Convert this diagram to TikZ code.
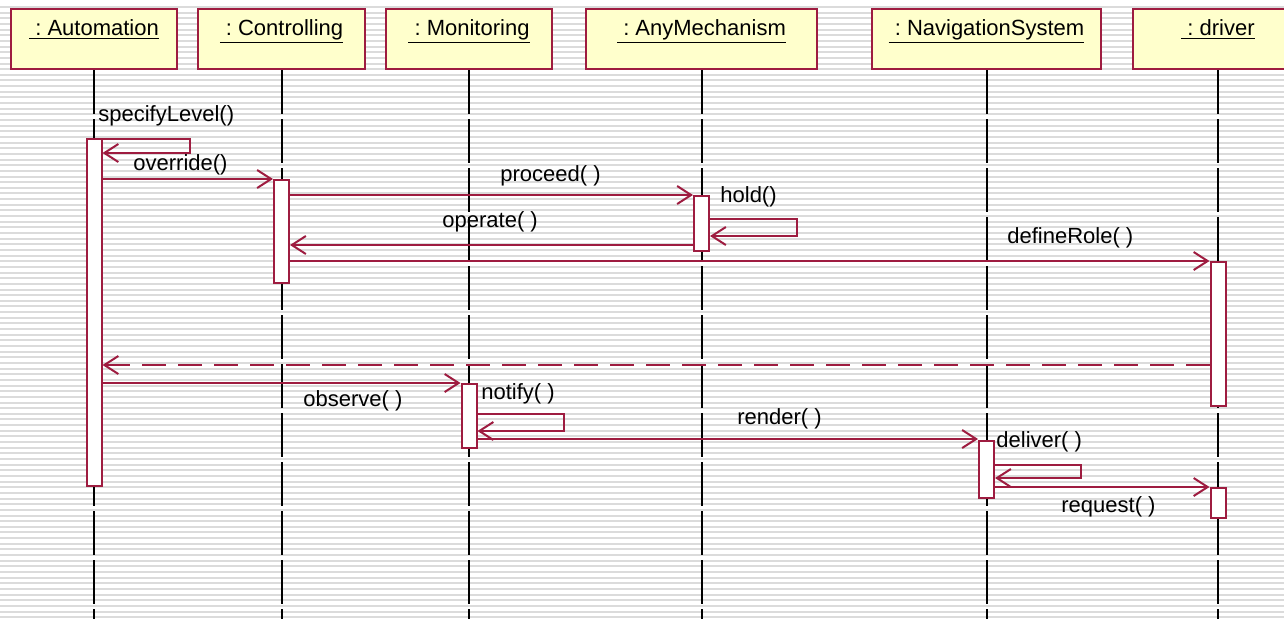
\documentclass[tikz,border=0pt]{standalone}
\usepackage{fontspec}
\setmainfont{Liberation Sans}
\usetikzlibrary{arrows.meta}
\definecolor{umlred}{RGB}{158,28,64}
\definecolor{umlfill}{RGB}{255,255,204}
\tikzset{
  obj/.style={draw=umlred, fill=umlfill, line width=1pt, inner xsep=0pt, inner ysep=4pt,
    text height=9pt, text depth=13pt, minimum height=30pt, font=\fontsize{11}{13}\selectfont},
  life/.style={black, line width=1pt, dash pattern=on 22pt off 2.5pt},
  bar/.style={draw=umlred, fill=white, line width=1pt, minimum width=7.5pt, inner sep=0pt, anchor=north},
  msg/.style={umlred, line width=1pt, -{Straight Barb[length=7pt,width=9pt]}},
  ret/.style={msg, dash pattern=on 12pt off 6pt},
  lbl/.style={inner sep=0pt, anchor=west, font=\fontsize{11}{13}\selectfont},
  stripe/.style={gray!28, line width=1pt}
}
\begin{document}
\begin{tikzpicture}[x=0.5pt, y=-0.5pt]
\useasboundingbox (0,0) rectangle (1284,618);
\clip (0,0) rectangle (1284,618);
\fill[white] (0,0) rectangle (1284,618);
\foreach \k in {0,...,108}
  \draw[stripe] (0,{7+5.65*\k}) -- (1284,{7+5.65*\k});
\coordinate (bot) at (0,620);
% objects
\node[obj, minimum width=83pt] (hAuto) at (94,39) {\underline{\ :\ Automation}};
\node[obj, minimum width=83.5pt] (hCtl) at (281.5,39) {\underline{\ :\ Controlling}};
\node[obj, minimum width=83pt] (hMon) at (469,39) {\underline{\ :\ Monitoring}};
\node[obj, minimum width=115.5pt] (hAny) at (701.5,39) {\underline{\ :\ AnyMechanism}};
\node[obj, minimum width=114.5pt] (hNav) at (986.5,39) {\underline{\ :\ NavigationSystem}};
\node[obj, minimum width=85pt] (hDrv) at (1218,39) {\underline{\ :\ driver}};
% lifelines
\foreach \o in {hAuto,hCtl,hMon,hAny,hNav,hDrv}
  \draw[life] (\o.south) -- (\o.south |- bot);
% activations
\node[bar, minimum height=173.5pt] (bAuto) at (hAuto.south |- 0,138) {};
\node[bar, minimum height=51.5pt] (bCtl) at (hCtl.south |- 0,179) {};
\node[bar, minimum height=27.5pt] (bAny) at (hAny.south |- 0,195) {};
\node[bar, minimum height=72pt] (bDrv1) at (hDrv.south |- 0,261) {};
\node[bar, minimum height=32pt] (bMon) at (hMon.south |- 0,383) {};
\node[bar, minimum height=28.5pt] (bNav) at (hNav.south |- 0,440) {};
\node[bar, minimum height=15pt] (bDrv2) at (hDrv.south |- 0,487) {};
% messages
\draw[msg] (bAuto.east |- 0,139) -- ++(87,0) -- ++(0,14) -- (bAuto.east |- 0,153);
\draw[msg] (bAuto.east |- 0,179) -- (bCtl.west |- 0,179);
\draw[msg] (bCtl.east |- 0,195) -- (bAny.west |- 0,195);
\draw[msg] (bAny.east |- 0,219) -- ++(87,0) -- ++(0,17) -- (bAny.east |- 0,236);
\draw[msg] (bAny.west |- 0,245) -- (bCtl.east |- 0,245);
\draw[msg] (bCtl.east |- 0,261) -- (bDrv1.west |- 0,261);
\draw[ret] (bDrv1.west |- 0,365) -- (bAuto.east |- 0,365);
\draw[msg] (bAuto.east |- 0,383) -- (bMon.west |- 0,383);
\draw[msg] (bMon.east |- 0,414) -- ++(86,0) -- ++(0,17) -- (bMon.east |- 0,431);
\draw[msg] (bMon.east |- 0,439) -- (bNav.west |- 0,439);
\draw[msg] (bNav.east |- 0,465) -- ++(86,0) -- ++(0,13) -- (bNav.east |- 0,478);
\draw[msg] (bNav.east |- 0,487) -- (bDrv2.west |- 0,487);
% labels
\node[lbl] (lSpec) at (98,116) {specifyLevel()};
\node[lbl] (lOver) at (133,165) {override()};
\node[lbl] (lProc) at (500,176) {proceed( )};
\node[lbl] (lHold) at (720,197) {hold()};
\node[lbl] (lOper) at (442,222) {operate( )};
\node[lbl] (lRole) at (1007,238) {defineRole( )};
\node[lbl] (lObs) at (303,401) {observe( )};
\node[lbl] (lNoti) at (481,394) {notify( )};
\node[lbl] (lRend) at (737,419) {render( )};
\node[lbl] (lDeli) at (996,442) {deliver( )};
\node[lbl] (lReq) at (1061,507) {request( )};
\end{tikzpicture}
\end{document}
